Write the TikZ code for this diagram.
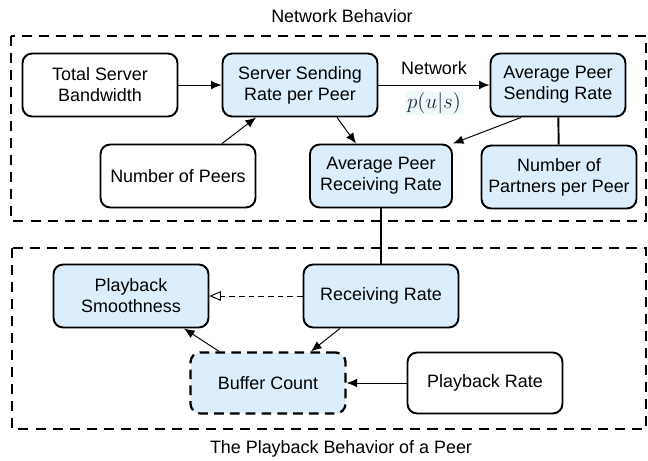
\documentclass[tikz,border=0pt]{standalone}
\usepackage{fontspec}
\setmainfont{Liberation Sans}
\usetikzlibrary{arrows.meta}
\definecolor{boxblue}{HTML}{DCEEFC}
\definecolor{mathbg}{HTML}{F0FAFB}
\definecolor{mathtext}{HTML}{1E2A3C}
\begin{document}
\begin{tikzpicture}[x=0.02cm,y=-0.02cm,
    font=\fontsize{10.2}{12}\selectfont,
    var/.style={draw,line width=1.1pt,rounded corners=5.5pt,align=center,
      minimum width=3.1cm,minimum height=1.26cm,inner sep=1pt},
    known/.style={var,fill=boxblue},
    hidden/.style={known,dash pattern=on 5.5pt off 3.5pt,line width=1.3pt},
    group/.style={draw,line width=1.3pt,dash pattern=on 5.7pt off 4pt},
    link/.style={line width=0.55pt,-{Latex[length=6pt,width=5pt]}},
    tie/.style={line width=1.1pt}]
  \useasboundingbox (0,0) rectangle (648,460);
  % the two groups
  \draw[group] (11,36) rectangle (646,221);
  \draw[group] (12,248) rectangle (646,429);
  \node (nettitle) at (342,16) {Network Behavior};
  \node (playtitle) at (341,449) {The Playback Behavior of a Peer};
  % network side
  \node[var] (total) at (100,85) {Total Server\\Bandwidth};
  \node[known] (server) at (300,85) {Server Sending\\Rate per Peer};
  \node[known,minimum width=2.7cm] (avgsend) at (558,85) {Average Peer\\Sending Rate};
  \node[var] (peers) at (178,176) {Number of Peers};
  \node[known,minimum width=2.84cm] (avgrecv) at (381,176) {Average Peer\\Receiving Rate};
  \node[known] (partners) at (559,177) {Number of\\Partners per Peer};
  % playback side
  \node[known] (smooth) at (131,296) {Playback\\Smoothness};
  \node[known] (recv) at (381,296) {Receiving Rate};
  \node[hidden,minimum height=1.22cm] (buffer) at (268,383) {Buffer Count};
  \node[var,minimum height=1.22cm] (prate) at (485,383) {Playback Rate};
  % connections
  \draw[link] (total) -- (server);
  \draw[link] (server) -- node[above=2pt] (netlabel) {Network}
    node[below=3pt,fill=mathbg,inner sep=1pt,text=mathtext,font=\fontsize{12}{14}\selectfont] (plabel) {$p(u|s)$} (avgsend);
  \draw[link] (peers.north -| 222,0) -- (server.south -| 256,0);
  \draw[link] (server.south -| 337,0) -- (avgrecv.north -| 356,0);
  \draw[link] (avgsend.south -| 521,0) -- (avgrecv.north east);
  \draw[tie] (avgsend) -- (partners);
  \draw[tie] (avgrecv) -- (recv);
  \draw[line width=0.55pt,dash pattern=on 3.2pt off 2.3pt,-{Triangle[open,length=6.5pt,width=5.5pt]}] (recv) -- (smooth);
  \draw[link] (recv.south -| 340,0) -- (buffer.north -| 311,0);
  \draw[link] (buffer.north -| 219,0) -- (smooth.south -| 184,0);
  \draw[link] (prate) -- (buffer);
\end{tikzpicture}
\end{document}
